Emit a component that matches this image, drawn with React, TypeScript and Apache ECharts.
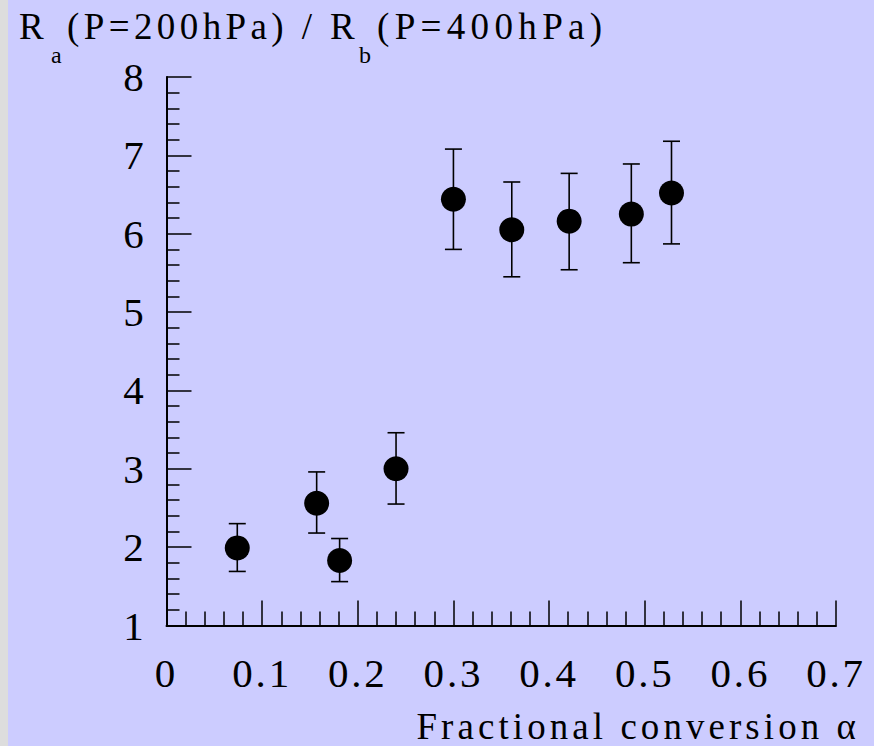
import React, { useEffect, useRef } from "react";
import * as echarts from "echarts";

// Fractional conversion (x) and ratio Ra/Rb (y) with error bar limits
const xValues = [0.074, 0.157, 0.181, 0.24, 0.3, 0.361, 0.421, 0.486, 0.528];
const yValues = [1.99, 2.56, 1.83, 3.0, 6.44, 6.05, 6.16, 6.25, 6.52];
const yHigh = [2.3, 2.96, 2.11, 3.46, 7.08, 6.66, 6.77, 6.89, 7.18];
const yLow = [1.69, 2.18, 1.56, 2.55, 5.8, 5.45, 5.54, 5.63, 5.87];

const xAxisMin = 0;
const xAxisMax = 0.7;
const xAxisStep = 0.1;
const yAxisMin = 1;
const yAxisMax = 8;
const yAxisStep = 1;

const titleMain1 = "R";
const titleSub1 = "a";
const titleMain2 = "(P=200hPa) / R";
const titleSub2 = "b";
const titleMain3 = "(P=400hPa)";
const xAxisTitle = "Fractional conversion \u03b1";

const FONT = "'Liberation Serif', 'Times New Roman', serif";

const css = `
.cbox text { letter-spacing: 2.8px; }
.cbox text[style*="37px"] { letter-spacing: 4.4px; }
.cbox text[style*="37.1px"] { letter-spacing: 5.3px; }
.cbox text[style*="36.9px"] { letter-spacing: 4.1px; }
`;

export default function App() {
  const ref = useRef<HTMLDivElement>(null);

  useEffect(() => {
    document.body.style.margin = "0";
    const chart = echarts.init(ref.current!, null, { renderer: "svg" });

    const points = xValues.map((x, i) => [x, yValues[i]]);
    const bars = xValues.map((x, i) => [x, yLow[i], yHigh[i]]);

    chart.setOption({
      animation: false,
      backgroundColor: "#ccccff",
      grid: { left: 166.5, right: 38, top: 77, bottom: 120.5, containLabel: false },
      xAxis: {
        type: "value",
        min: xAxisMin,
        max: xAxisMax,
        interval: xAxisStep,
        axisLine: { show: true, onZero: false, lineStyle: { color: "#000", width: 2 } },
        axisTick: { show: true, inside: true, length: 25, lineStyle: { color: "#000", width: 1.5 } },
        minorTick: { show: true, splitNumber: 5, length: 14, lineStyle: { color: "#000", width: 1.5 } },
        splitLine: { show: false },
        axisLabel: {
          color: "#000",
          fontFamily: FONT,
          fontSize: 41,
          margin: 27,
          formatter: (v: number) => String(Math.round(v * 10) / 10),
        },
      },
      yAxis: {
        type: "value",
        min: yAxisMin,
        max: yAxisMax,
        interval: yAxisStep,
        axisLine: { show: true, onZero: false, lineStyle: { color: "#000", width: 2 } },
        axisTick: { show: true, inside: true, length: 25, lineStyle: { color: "#000", width: 1.5 } },
        minorTick: { show: true, splitNumber: 5, length: 13, lineStyle: { color: "#000", width: 1.5 } },
        splitLine: { show: false },
        axisLabel: {
          color: "#000",
          fontFamily: FONT,
          fontSize: 41,
          margin: 20,
        },
      },
      graphic: [
        { type: "rect", left: 0, top: 0, shape: { width: 8, height: 746 }, style: { fill: "#dddddd" }, z: -1 },
        { type: "text", x: 19, y: 26, style: { text: titleMain1, font: `37px ${FONT}`, fill: "#000", verticalAlign: "middle", align: "left" } },
        { type: "text", x: 51, y: 55, style: { text: titleSub1, font: `24px ${FONT}`, fill: "#000", verticalAlign: "middle", align: "left" } },
        { type: "text", x: 67, y: 26, style: { text: titleMain2, font: `37px ${FONT}`, fill: "#000", verticalAlign: "middle", align: "left" } },
        { type: "text", x: 359, y: 55, style: { text: titleSub2, font: `24px ${FONT}`, fill: "#000", verticalAlign: "middle", align: "left" } },
        { type: "text", x: 377, y: 26, style: { text: titleMain3, font: `37.1px ${FONT}`, fill: "#000", verticalAlign: "middle", align: "left" } },
        { type: "text", x: 860, y: 726, style: { text: xAxisTitle, font: `36.9px ${FONT}`, fill: "#000", verticalAlign: "middle", align: "right" } },
      ],
      series: [
        {
          type: "custom",
          data: bars,
          z: 2,
          renderItem: (params: any, api: any) => {
            const x = api.value(0);
            const lo = api.coord([x, api.value(1)]);
            const hi = api.coord([x, api.value(2)]);
            const cap = 8.5;
            const st = { stroke: "#000", lineWidth: 1.6 };
            return {
              type: "group",
              children: [
                { type: "line", shape: { x1: lo[0], y1: lo[1], x2: hi[0], y2: hi[1] }, style: st },
                { type: "line", shape: { x1: lo[0] - cap, y1: lo[1], x2: lo[0] + cap, y2: lo[1] }, style: st },
                { type: "line", shape: { x1: hi[0] - cap, y1: hi[1], x2: hi[0] + cap, y2: hi[1] }, style: st },
              ],
            };
          },
        },
        {
          type: "scatter",
          data: points,
          symbol: "circle",
          symbolSize: 25,
          itemStyle: { color: "#000", opacity: 1 },
          z: 3,
        },
      ],
    });

    return () => chart.dispose();
  }, []);

  return (
    <>
      <style>{css}</style>
      <div
        ref={ref}
        className="cbox"
        style={{ position: "absolute", left: 0, top: 0, width: 874, height: 746 }}
      />
    </>
  );
}
